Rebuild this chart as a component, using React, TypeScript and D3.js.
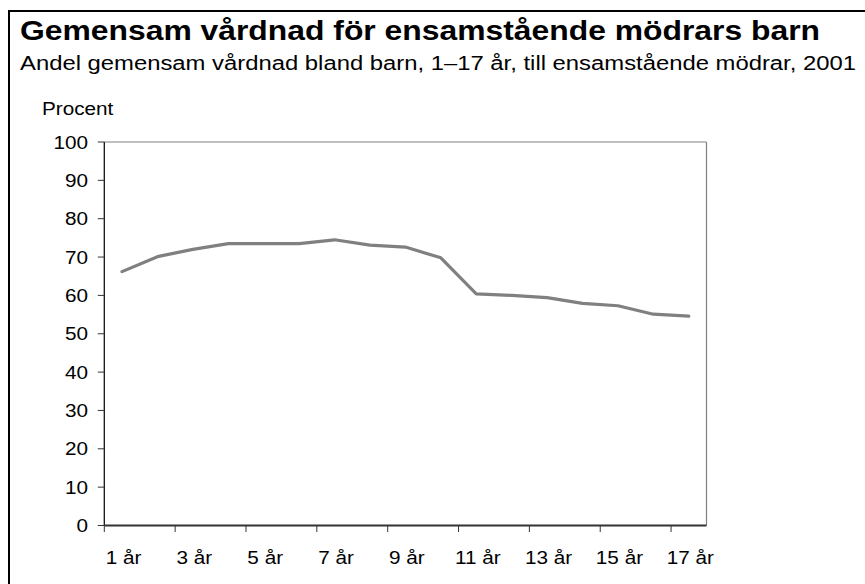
import React from "react";
import * as d3 from "d3";

const categories = ["1 år","2 år","3 år","4 år","5 år","6 år","7 år","8 år","9 år","10 år","11 år","12 år","13 år","14 år","15 år","16 år","17 år"];
const values = [66.2, 70.1, 72.0, 73.5, 73.5, 73.5, 74.5, 73.1, 72.6, 69.8, 60.4, 60.0, 59.4, 57.9, 57.3, 55.1, 54.6];
const yTicks = [0, 10, 20, 30, 40, 50, 60, 70, 80, 90, 100];
const title = "Gemensam vårdnad för ensamstående mödrars barn";
const subtitle = "Andel gemensam vårdnad bland barn, 1–17 år, till ensamstående mödrar, 2001";
const yLabel = "Procent";

const W = 865, H = 584;
const FONT = "'Liberation Sans', Arial, Helvetica, sans-serif";
const SX = 1.12;

export default function App() {
  const x = d3.scaleBand<string>().domain(categories).range([104.3, 706.5]).padding(0);
  const y = d3.scaleLinear().domain([0, 100]).range([525.5, 142]);
  const bw = x.bandwidth();
  const line = d3.line<number>()
    .x((_, i) => (x(categories[i]) as number) + bw / 2)
    .y((d) => y(d));
  const x0 = x.range()[0], x1 = x.range()[1];
  const yTop = y(100), yBot = y(0);

  return (
    <svg width={W} height={H} style={{ position: "absolute", left: 0, top: 0, background: "#fff" }} fontFamily={FONT}>
      <rect x={0} y={0} width={W} height={H} fill="#fff" />
      <rect x={9} y={11} width={900} height={620} fill="none" stroke="#000" strokeWidth={2} />
      <text x={20} y={39.5} fontSize={28.5} fontWeight="bold" textLength={800} lengthAdjust="spacingAndGlyphs">{title}</text>
      <text x={20} y={69.5} fontSize={20} textLength={836} lengthAdjust="spacingAndGlyphs">{subtitle}</text>
      <text transform={`translate(42,115) scale(${SX},1)`} fontSize={18.5}>{yLabel}</text>

      {/* plot frame top & right */}
      <line x1={x0} x2={x1} y1={yTop} y2={yTop} stroke="#808080" strokeWidth={1.2} />
      <line x1={x1} x2={x1} y1={yTop} y2={yBot} stroke="#808080" strokeWidth={1.2} />

      {/* y axis */}
      <line x1={x0} x2={x0} y1={yTop} y2={yBot} stroke="#111" strokeWidth={1.3} />
      {yTicks.map((t) => (
        <g key={t}>
          <line x1={x0 - 6.5} x2={x0} y1={y(t)} y2={y(t)} stroke="#333" strokeWidth={1} />
          <text transform={`translate(88,${y(t)}) scale(${SX},1)`} fontSize={18.5} textAnchor="end" dy="0.36em">{t}</text>
        </g>
      ))}

      {/* x axis */}
      <line x1={x0} x2={x1} y1={yBot} y2={yBot} stroke="#333" strokeWidth={2} />
      {categories.map((c, i) =>
        i % 2 === 0 ? (
          <g key={c}>
            <line x1={x(c) as number} x2={x(c) as number} y1={yBot} y2={yBot + 6.5} stroke="#333" strokeWidth={1} />
            <text transform={`translate(${(x(c) as number) + bw / 2 + 1.5},564) scale(${SX},1)`} fontSize={18.5} textAnchor="middle">{c}</text>
          </g>
        ) : null
      )}

      <path d={line(values) || ""} fill="none" stroke="#808080" strokeWidth={3.2} strokeLinejoin="round" strokeLinecap="round" />
    </svg>
  );
}
